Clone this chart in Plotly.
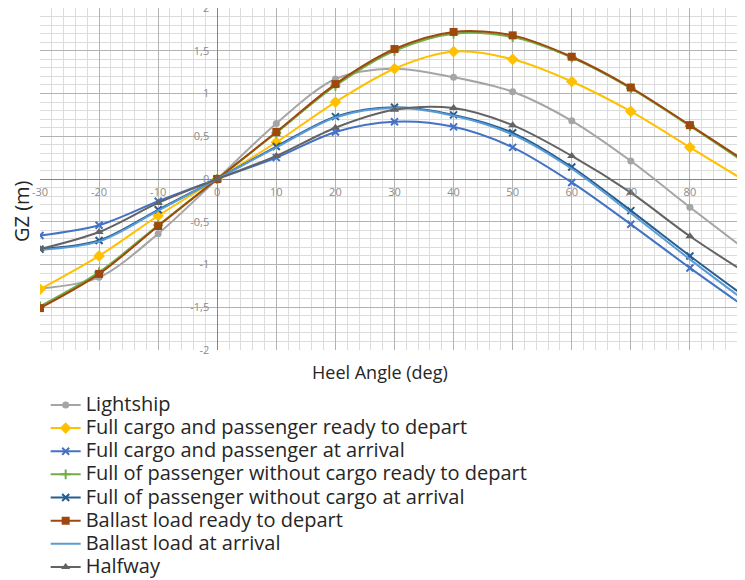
import plotly.graph_objects as go

# Heel angle (deg)
heel = [-30, -20, -10, 0, 10, 20, 30, 40, 50, 60, 70, 80, 90]

# GZ (m) for each loading condition
lightship = [-1.28, -1.15, -0.64, 0, 0.65, 1.17, 1.29, 1.19, 1.02, 0.68, 0.21, -0.33, -0.86]
full_cargo_depart = [-1.29, -0.90, -0.43, 0, 0.43, 0.90, 1.29, 1.49, 1.40, 1.14, 0.79, 0.37, -0.05]
full_cargo_arrival = [-0.66, -0.54, -0.26, 0, 0.25, 0.55, 0.67, 0.61, 0.37, -0.04, -0.53, -1.04, -1.53]
passenger_depart = [-1.49, -1.09, -0.54, 0, 0.54, 1.09, 1.50, 1.70, 1.66, 1.42, 1.06, 0.62, 0.16]
passenger_arrival = [-0.82, -0.72, -0.36, 0, 0.38, 0.73, 0.84, 0.75, 0.54, 0.14, -0.37, -0.90, -1.41]
ballast_depart = [-1.51, -1.11, -0.55, 0, 0.55, 1.11, 1.52, 1.72, 1.68, 1.43, 1.07, 0.63, 0.18]
ballast_arrival = [-0.83, -0.73, -0.37, 0, 0.37, 0.72, 0.83, 0.74, 0.52, 0.12, -0.40, -0.94, -1.46]
halfway = [-0.82, -0.62, -0.28, 0, 0.27, 0.60, 0.81, 0.83, 0.63, 0.27, -0.16, -0.67, -1.12]

x_ticks = [-30, -20, -10, 0, 10, 20, 30, 40, 50, 60, 70, 80, 90]
x_labels = ["-30", "-20", "-10", "0", "10", "20", "30", "40", "50", "60", "70", "80", "90"]
y_ticks = [-2, -1.5, -1, -0.5, 0, 0.5, 1, 1.5, 2]
y_labels = ["-2", "-1,5", "-1", "-0,5", "0", "0,5", "1", "1,5", "2"]

series = [
    ("Lightship", lightship, "#A5A5A5", "circle", 7),
    ("Full cargo and passenger ready to depart", full_cargo_depart, "#FFC000", "diamond", 9),
    ("Full cargo and passenger at arrival", full_cargo_arrival, "#4472C4", "x-thin", 7),
    ("Full of passenger without cargo ready to depart", passenger_depart, "#70AD47", "cross-thin", 7),
    ("Full of passenger without cargo at arrival", passenger_arrival, "#255E91", "x-thin", 7),
    ("Ballast load ready to depart", ballast_depart, "#9E480E", "square", 8),
    ("Ballast load at arrival", ballast_arrival, "#5B9BD5", None, 0),
    ("Halfway", halfway, "#636363", "triangle-up", 8),
]

x_range = [-30, 90]
y_range = [-2, 2]

fig = go.Figure()
for name, vals, color, symbol, size in series:
    if symbol is None:
        mode = "lines"
        marker = dict()
    else:
        mode = "lines+markers"
        marker = dict(symbol=symbol, size=size, color=color,
                      line=dict(color=color, width=2 if "thin" in symbol else 0))
    fig.add_trace(go.Scatter(
        x=heel, y=vals, mode=mode,
        # bigger text than the legend font so rows stay tight like the original
        name=f'<span style="font-size:20px">{name}</span>',
        line=dict(color=color, width=2, shape="spline", smoothing=0.9),
        marker=marker,
    ))

# axes cross at the origin, like the spreadsheet chart
x_pos = (0 - y_range[0]) / (y_range[1] - y_range[0])
y_pos = (0 - x_range[0]) / (x_range[1] - x_range[0])

# page body adds an 8px margin, so the margins below are shifted to compensate
fig.update_layout(
    width=745, height=580,
    margin=dict(l=32, r=4, t=0, b=238, autoexpand=False),
    paper_bgcolor="white", plot_bgcolor="white",
    font=dict(family="Open Sans, sans-serif", color="#404040"),
    xaxis=dict(
        range=x_range, tickvals=x_ticks, ticktext=x_labels,
        anchor="free", position=x_pos, showline=False, ticks="",
        ticklabelstandoff=5, ticklabeloverflow="allow",
        showgrid=True, gridcolor="#B3B3B3", gridwidth=1,
        minor=dict(dtick=2, showgrid=True, gridcolor="#DCDCDC", gridwidth=1),
        zeroline=True, zerolinecolor="#858585", zerolinewidth=1,
        tickfont=dict(size=11, color="#8C8C8C"),
    ),
    yaxis=dict(
        range=y_range, tickvals=y_ticks, ticktext=y_labels,
        anchor="free", position=y_pos, showline=False, ticks="",
        ticklabelstandoff=8, ticklabeloverflow="allow",
        showgrid=True, gridcolor="#B3B3B3", gridwidth=1,
        minor=dict(dtick=0.1, showgrid=True, gridcolor="#DCDCDC", gridwidth=1),
        zeroline=True, zerolinecolor="#858585", zerolinewidth=1,
        tickfont=dict(size=11, color="#8C8C8C"),
    ),
    legend=dict(
        x=0.008, y=-0.112, xanchor="left", yanchor="top",
        font=dict(size=15.5, color="#262626"),
        itemwidth=30, tracegroupgap=0, bgcolor="rgba(0,0,0,0)",
    ),
    annotations=[
        dict(text="Heel Angle (deg)", x=0.4795, y=-0.064, xref="paper", yref="paper",
             xanchor="center", yanchor="middle", showarrow=False,
             font=dict(size=18, color="#262626")),
        dict(text="GZ (m)", x=-0.027, y=0.406, xref="paper", yref="paper",
             xanchor="center", yanchor="middle", showarrow=False, textangle=-90,
             font=dict(size=20, color="#262626")),
    ],
)

fig.write_html("out.html")
